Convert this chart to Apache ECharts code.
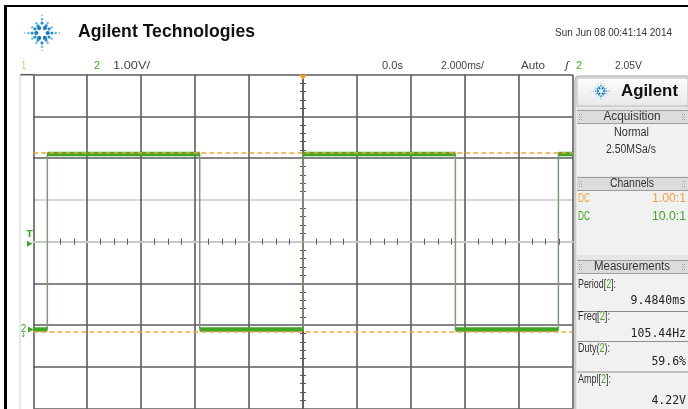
<!DOCTYPE html>
<html>
<head>
<meta charset="utf-8">
<script src="https://cdn.jsdelivr.net/npm/echarts@6/dist/echarts.min.js"></script>
<style>
  html, body { margin: 0; padding: 0; background: #ffffff; }
  #chart { width: 688px; height: 409px; }
</style>
</head>
<body>
<div id="chart"></div>
<script>
// ---- Channel 2 trace (time in ms, level in volts), drawn as a stepped square wave ----
const traceTime  = [-10, -9.48, -9.48, -3.83, -3.83, 0, 0, 5.65, 5.65, 9.47, 9.47, 10];
const traceVolts = [0.0, 0.0, 4.2, 4.2, 0.0, 0.0, 4.2, 4.2, 0.0, 0.0, 4.2, 4.2];

// amplitude measurement markers (top / base), trigger level, channel 2 ground
const cursorVolts  = [4.22, -0.05];
const triggerVolts = 2.05;
const groundVolts  = 0;

// screen scales: 2 ms/div over 10 divisions, 1 V/div over 8 divisions
const timeMin = -10, timeMax = 10, timePerDiv = 2;
const voltMin = -1.9, voltMax = 6.1;
const divMin = -4, divMax = 4;

// status texts
const brandTitle   = 'Agilent Technologies';
const stampText    = 'Sun Jun 08 00:41:14 2014';
const scaleText    = '1.00V/';
const delayText    = '0.0s';
const timebaseText = '2.000ms/';
const modeText     = 'Auto';
const trigLevelText = '2.05V';
const acquisitionLines = ['Normal', '2.50MSa/s'];
const channelCoupling  = ['DC', 'DC'];
const channelProbe     = ['1.00:1', '10.0:1'];
const measureNames  = ['Period', 'Freq', 'Duty', 'Ampl'];
const measureOpen   = ['[', '[', '(', '['];
const measureClose  = [']:', ']:', '):', ']:'];
const measureValues = ['9.4840ms', '105.44Hz', '59.6%', '4.22V'];

// ---- colours ----
const C_GRID = '#5c5c5c', C_GRID_LIGHT = '#c8c8c8';
const C_CH1 = '#eba53f', C_CH2 = '#42a526', C_EDGE = '#7d9b79';
const C_TEXT = '#444444';

const measureCtx = document.createElement('canvas').getContext('2d');
function textWidth(t, font) { measureCtx.font = font; return measureCtx.measureText(t).width; }
// text squeezed horizontally to span a given width (the scope's narrow UI font)
function fitText(t, left, y, width, font, fill, align, z) {
  const sx = width / textWidth(t, font);
  const ax = align === 'right' ? left + width : align === 'center' ? left + width / 2 : left;
  return { type: 'text', x: ax, y: y, scaleX: sx, z: z || 20,
    style: { text: t, font: font, fill: fill, align: align || 'left', verticalAlign: 'middle' } };
}
function plainText(t, x, y, font, fill, align, z) {
  return { type: 'text', x: x, y: y, z: z || 20,
    style: { text: t, font: font, fill: fill, align: align || 'left', verticalAlign: 'middle' } };
}
function rect(x, y, w, h, fill, stroke, z, r) {
  return { type: 'rect', z: z || 10, shape: { x: x, y: y, width: w, height: h, r: r || 0 },
    style: { fill: fill, stroke: stroke || null, lineWidth: 1 } };
}
function line(x1, y1, x2, y2, color, w, z) {
  return { type: 'line', z: z || 10, shape: { x1: x1, y1: y1, x2: x2, y2: y2 },
    style: { stroke: color, lineWidth: w || 1 } };
}
// dotted starburst emblem
function spark(cx, cy, r, z) {
  const out = [];
  for (let k = 0; k < 6; k++) {
    const a = Math.PI / 3 * k;
    out.push({ type: 'circle', z: z, shape: { cx: cx + Math.cos(a) * r * 0.3, cy: cy + Math.sin(a) * r * 0.3, r: r * 0.11 },
      style: { fill: '#1d78b8' } });
  }
  for (let k = 0; k < 12; k++) {
    const a = Math.PI / 6 * k;
    const long = k % 3 === 0 ? 1 : 0.82;
    const steps = [0.52, 0.72, 0.92];
    steps.forEach(function (s, j) {
      if (j === 2 && long < 1) return;
      out.push({ type: 'circle', z: z, shape: { cx: cx + Math.cos(a) * r * s * long, cy: cy + Math.sin(a) * r * s * long, r: r * (0.085 - j * 0.022) },
        style: { fill: j === 0 ? '#2a8cc8' : '#5db8dc' } });
    });
  }
  return out;
}
function grip(x, y, z) {
  const out = [];
  for (let i = 0; i < 2; i++) for (let j = 0; j < 3; j++)
    out.push(rect(x + i * 2, y - 3 + j * 2.5, 1, 1, '#a0a0a0', null, z));
  return out;
}

const traceData = traceTime.map(function (t, i) { return [t, traceVolts[i]]; });
const levelData = [];
for (let i = 0; i < traceTime.length; i += 2) {
  if (i > 0) levelData.push([traceTime[i], '-']);
  levelData.push([traceTime[i], traceVolts[i]], [traceTime[i + 1], traceVolts[i + 1]]);
}

const chart = echarts.init(document.getElementById('chart'), null, { renderer: 'canvas' });
const hidden = { show: false };

const option = {
  animation: false,
  backgroundColor: '#ffffff',
  grid: { left: 33.3, top: 74.7, width: 539.4, height: 334, containLabel: false },
  xAxis: [
    { type: 'value', min: timeMin, max: timeMax, interval: timePerDiv,
      axisLine: { show: false, onZero: false }, axisTick: hidden, axisLabel: hidden,
      splitLine: { show: true, lineStyle: { color: C_GRID, width: 1.6 } } },
    { type: 'value', min: timeMin, max: timeMax, interval: timePerDiv, position: 'bottom',
      axisLine: { show: true, onZero: true, onZeroAxisIndex: 0, lineStyle: { color: C_GRID_LIGHT, width: 2 } },
      axisTick: { show: false, inside: false }, axisLabel: hidden, splitLine: hidden,
      minorTick: { show: true, splitNumber: 4, length: 3, lineStyle: { color: '#555', width: 1 } } },
    { type: 'value', min: timeMin, max: timeMax, interval: timePerDiv, position: 'bottom',
      axisLine: { show: false, onZero: true, onZeroAxisIndex: 0 },
      axisTick: { show: false, inside: true }, axisLabel: hidden, splitLine: hidden,
      minorTick: { show: true, splitNumber: 4, length: 3, lineStyle: { color: '#555', width: 1 } } }
  ],
  yAxis: [
    { type: 'value', min: divMin, max: divMax, interval: 1,
      axisLine: { show: false, onZero: false }, axisTick: hidden, axisLabel: hidden,
      splitLine: { show: true, lineStyle: { width: 1.6,
        color: [C_GRID, C_GRID, C_GRID, C_GRID, C_GRID_LIGHT, C_GRID_LIGHT, C_GRID, C_GRID, C_GRID] } } },
    { type: 'value', min: voltMin, max: voltMax, show: false },
    { type: 'value', min: divMin, max: divMax, interval: 1, position: 'left',
      axisLine: { show: true, onZero: true, onZeroAxisIndex: 0, lineStyle: { color: C_GRID, width: 1.6 } },
      axisTick: { show: false, inside: false }, axisLabel: hidden, splitLine: hidden,
      minorTick: { show: true, splitNumber: 5, length: 3, lineStyle: { color: '#555', width: 1 } } },
    { type: 'value', min: divMin, max: divMax, interval: 1, position: 'left',
      axisLine: { show: false, onZero: true, onZeroAxisIndex: 0 },
      axisTick: { show: false, inside: true }, axisLabel: hidden, splitLine: hidden,
      minorTick: { show: true, splitNumber: 5, length: 3, lineStyle: { color: '#555', width: 1 } } }
  ],
  series: [
    { type: 'line', name: 'cursors', xAxisIndex: 0, yAxisIndex: 1, data: [], z: 2, silent: true,
      markLine: { silent: true, symbol: 'none', label: hidden,
        lineStyle: { color: C_CH1, type: [5, 3], width: 1.5 },
        data: cursorVolts.map(function (v) { return { yAxis: v }; }) } },
    { type: 'line', name: 'edges', xAxisIndex: 0, yAxisIndex: 1, data: traceData, z: 3,
      showSymbol: false, symbol: 'none', lineStyle: { color: C_EDGE, width: 1.5 } },
    { type: 'line', name: 'levels', xAxisIndex: 0, yAxisIndex: 1, data: levelData, z: 4,
      showSymbol: false, symbol: 'none', connectNulls: false, lineStyle: { color: C_CH2, width: 4.5 } }
  ]
};
chart.setOption(option);

// ---- screen decorations placed from the axis scales ----
const xCentre = chart.convertToPixel({ xAxisIndex: 0 }, 0);
const xLeft   = chart.convertToPixel({ xAxisIndex: 0 }, timeMin);
const yTop    = chart.convertToPixel({ yAxisIndex: 0 }, divMax);
const yTrig   = chart.convertToPixel({ yAxisIndex: 1 }, triggerVolts);
const yGnd    = chart.convertToPixel({ yAxisIndex: 1 }, groundVolts);

const NARROW = '11px "Liberation Sans", Arial, sans-serif';
const PANEL = '12px "Liberation Sans", Arial, sans-serif';
const MONO = '11.5px "DejaVu Sans Mono", monospace';
const g = [];

// outer frame and left margin
g.push(rect(4, 5, 684, 2, '#000', null, 30));
g.push(rect(4, 5, 3, 404, '#000', null, 30));
g.push(line(20, yTop, xLeft, yTop, C_GRID, 1.6, 5));
g.push(line(20, yTop, 20, 409, '#d6e3ef', 1.5, 5));

// header
g.push.apply(g, spark(42, 33, 19, 20));
g.push(fitText(brandTitle, 78, 32.5, 177, 'bold 18px "Liberation Sans", Arial, sans-serif', '#111', 'left'));
g.push(fitText(stampText, 555, 33, 117, '11px "Liberation Sans", Arial, sans-serif', '#333', 'left'));

// status row
g.push(fitText('1', 22, 65.5, 3.5, NARROW, C_CH1, 'left'));
g.push(fitText('2', 94, 65.5, 6, NARROW, C_CH2, 'left'));
g.push(fitText(scaleText, 113, 65.5, 37, NARROW, C_TEXT, 'left'));
g.push(fitText(delayText, 382, 65.5, 21, NARROW, C_TEXT, 'left'));
g.push(fitText(timebaseText, 441, 65.5, 43, NARROW, C_TEXT, 'left'));
g.push(fitText(modeText, 521, 65.5, 24, NARROW, C_TEXT, 'left'));
g.push(plainText('\u0283', 567, 66, 'italic 11px "DejaVu Sans", sans-serif', '#333', 'center'));
g.push(fitText('2', 576, 65.5, 6, NARROW, C_CH2, 'left'));
g.push(fitText(trigLevelText, 615, 65.5, 27, NARROW, C_TEXT, 'left'));

// time reference, trigger and ground markers
g.push({ type: 'polygon', z: 25, shape: { points: [[xCentre - 4, yTop], [xCentre + 4, yTop], [xCentre, yTop + 5]] }, style: { fill: '#f29a2e' } });
g.push({ type: 'polygon', z: 25, shape: { points: [[27, yTrig - 3], [27, yTrig + 3], [32.5, yTrig]] }, style: { fill: C_CH2 } });
g.push(plainText('T', 29.5, yTrig - 9.5, 'bold 9px "DejaVu Sans", sans-serif', C_CH2, 'center', 25));
g.push({ type: 'polygon', z: 25, shape: { points: [[28, yGnd - 3], [28, yGnd + 3], [33.5, yGnd]] }, style: { fill: C_CH2 } });
g.push(plainText('2', 23.5, yGnd - 0.5, '10px "Liberation Sans", sans-serif', C_CH2, 'center', 25));
g.push(plainText('\u2193', 23.5, yGnd + 6, '7px "DejaVu Sans", sans-serif', C_CH2, 'center', 25));

// side panel
const PX = 575, PW = 113;
g.push(rect(PX, 76, PW + 2, 336, '#e6e6e6', '#a9a9a9', 10, [4, 0, 0, 0]));
g.push({ type: 'rect', z: 11, shape: { x: PX + 2, y: 78, width: PW - 2, height: 28 },
  style: { stroke: '#bcbcbc', lineWidth: 1,
    fill: new echarts.graphic.LinearGradient(0, 0, 0, 1, [{ offset: 0, color: '#fdfdfd' }, { offset: 1, color: '#e8e8e8' }]) } });
g.push.apply(g, spark(601, 91, 10, 12));
g.push(fitText('Agilent', 621, 91, 57, 'bold 17px "Liberation Sans", Arial, sans-serif', '#111', 'left'));

function section(title, y, w) {
  g.push(rect(PX + 2, y - 6, PW - 2, 12, '#dcdcdc', null, 11));
  g.push(line(PX + 2, y - 6.5, PX + PW, y - 6.5, '#9c9c9c', 1, 12));
  g.push(line(PX + 2, y + 6.5, PX + PW, y + 6.5, '#9c9c9c', 1, 12));
  g.push.apply(g, grip(PX + 4, y, 13));
  g.push.apply(g, grip(PX + PW - 6, y, 13));
  g.push(fitText(title, 632 - w / 2, y, w, PANEL, '#333', 'left'));
}
g.push(rect(PX + 2, 124, PW - 2, 52, '#f1f1f1', null, 11));
g.push(rect(PX + 2, 191, PW - 2, 64, '#f1f1f1', null, 11));
g.push(rect(PX + 2, 274, PW - 2, 135, '#f1f1f1', null, 11));
section('Acquisition', 117, 57);
g.push(fitText(acquisitionLines[0], 614, 133, 35, PANEL, '#333', 'left'));
g.push(fitText(acquisitionLines[1], 606, 150, 50, PANEL, '#333', 'left'));
section('Channels', 184, 44);
const chanColor = [C_CH1, C_CH2];
const chanY = [198.5, 216.5];
channelCoupling.forEach(function (c, i) {
  g.push(fitText(c, 578, chanY[i], 12, PANEL, chanColor[i], 'left'));
  g.push(fitText(channelProbe[i], 652, chanY[i], 34, PANEL, chanColor[i], 'left'));
});
section('Measurements', 267, 76);
const nameY = [285, 317, 349, 380];
const valueY = [301.5, 334, 362.5, 401];
const sepY = [311.5, 341.5, 372];
const nameW = [38, 32, 32, 33];
measureNames.forEach(function (n, i) {
  const f = PANEL;
  const parts = [n + measureOpen[i], '2', measureClose[i]];
  const full = parts.join('');
  const sx = nameW[i] / textWidth(full, f);
  let x = 578;
  const cols = ['#333', C_CH2, '#333'];
  parts.forEach(function (p, k) {
    g.push({ type: 'text', x: x, y: nameY[i], scaleX: sx, z: 20,
      style: { text: p, font: f, fill: cols[k], align: 'left', verticalAlign: 'middle' } });
    x += textWidth(p, f) * sx;
  });
  g.push(plainText(measureValues[i], 686, valueY[i], MONO, '#222', 'right'));
  if (i < sepY.length) g.push(line(PX + 2, sepY[i], PX + PW, sepY[i], '#8f8f8f', 1, 12));
});

chart.setOption({ graphic: { elements: g } });
</script>
</body>
</html>
